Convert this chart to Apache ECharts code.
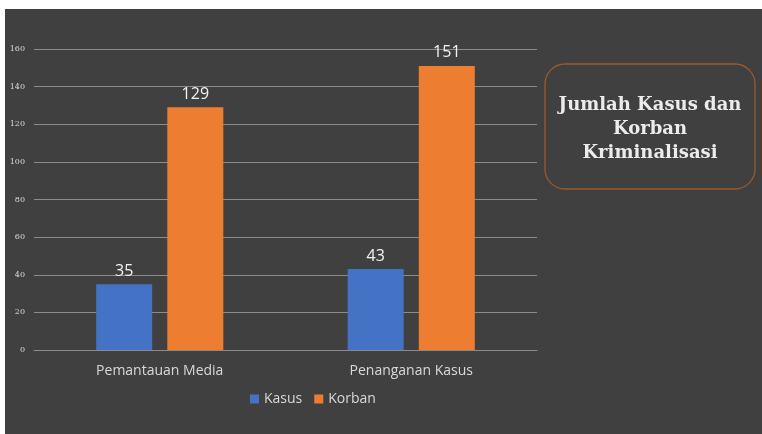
<!DOCTYPE html>
<html><head><meta charset="utf-8">
<script src="https://cdn.jsdelivr.net/npm/echarts@6/dist/echarts.min.js"></script>
<style>html,body{margin:0;padding:0;background:#fff}#c{width:762px;height:434px}</style>
</head><body><div id="c"></div>
<script>
const categories = ['Pemantauan Media', 'Penanganan Kasus'];
const kasus = [35, 43];
const korban = [129, 151];
const seriesNames = ['Kasus', 'Korban'];
const yMax = 160, yStep = 20;
const titleLines = ['Jumlah Kasus dan', 'Korban', 'Kriminalisasi'];

const chart = echarts.init(document.getElementById('c'), null, {renderer: 'canvas'});
const labelStyle = {show: true, position: 'top', color: '#f2f2f2', fontSize: 16, fontFamily: 'Open Sans', distance: 5};
chart.setOption({
  backgroundColor: '#ffffff',
  animation: false,
  graphic: [
    {type: 'rect', shape: {x: 5, y: 9, width: 757, height: 425}, style: {fill: '#404040'}, z: -10},
    {type: 'rect', shape: {x: 545, y: 64, width: 210, height: 125, r: 20}, style: {fill: 'none', stroke: '#9a5a2c', lineWidth: 1.3}},
    {type: 'text', x: 650, y: 129, style: {text: titleLines.join('\n'), fill: '#ececec', font: 'bold 18px "DejaVu Serif"', textAlign: 'center', textVerticalAlign: 'middle', lineHeight: 24}}
  ],
  grid: {left: 34, right: 225, top: 49, bottom: 84, containLabel: false},
  legend: {
    data: seriesNames, bottom: 23, left: 245, itemWidth: 9, itemHeight: 9, itemGap: 12,
    icon: 'rect', textStyle: {color: '#d9d9d9', fontSize: 14, fontFamily: 'Open Sans'}
  },
  xAxis: {
    type: 'category', data: categories,
    axisLine: {lineStyle: {color: '#8c8c8c'}}, axisTick: {show: false},
    axisLabel: {color: '#d9d9d9', fontSize: 14, fontFamily: 'Open Sans', margin: 14}
  },
  yAxis: {
    type: 'value', min: 0, max: yMax, interval: yStep,
    axisLine: {show: false}, axisTick: {show: false},
    axisLabel: {color: '#d9d9d9', fontSize: 8, fontFamily: 'DejaVu Serif', margin: 9},
    splitLine: {lineStyle: {color: '#8c8c8c', width: 1}}
  },
  series: [
    {name: seriesNames[0], type: 'bar', data: kasus, barWidth: 56, barGap: '27%', itemStyle: {color: '#4472c4'}, label: labelStyle},
    {name: seriesNames[1], type: 'bar', data: korban, barWidth: 56, itemStyle: {color: '#ed7d31'}, label: labelStyle}
  ]
});
</script></body></html>
